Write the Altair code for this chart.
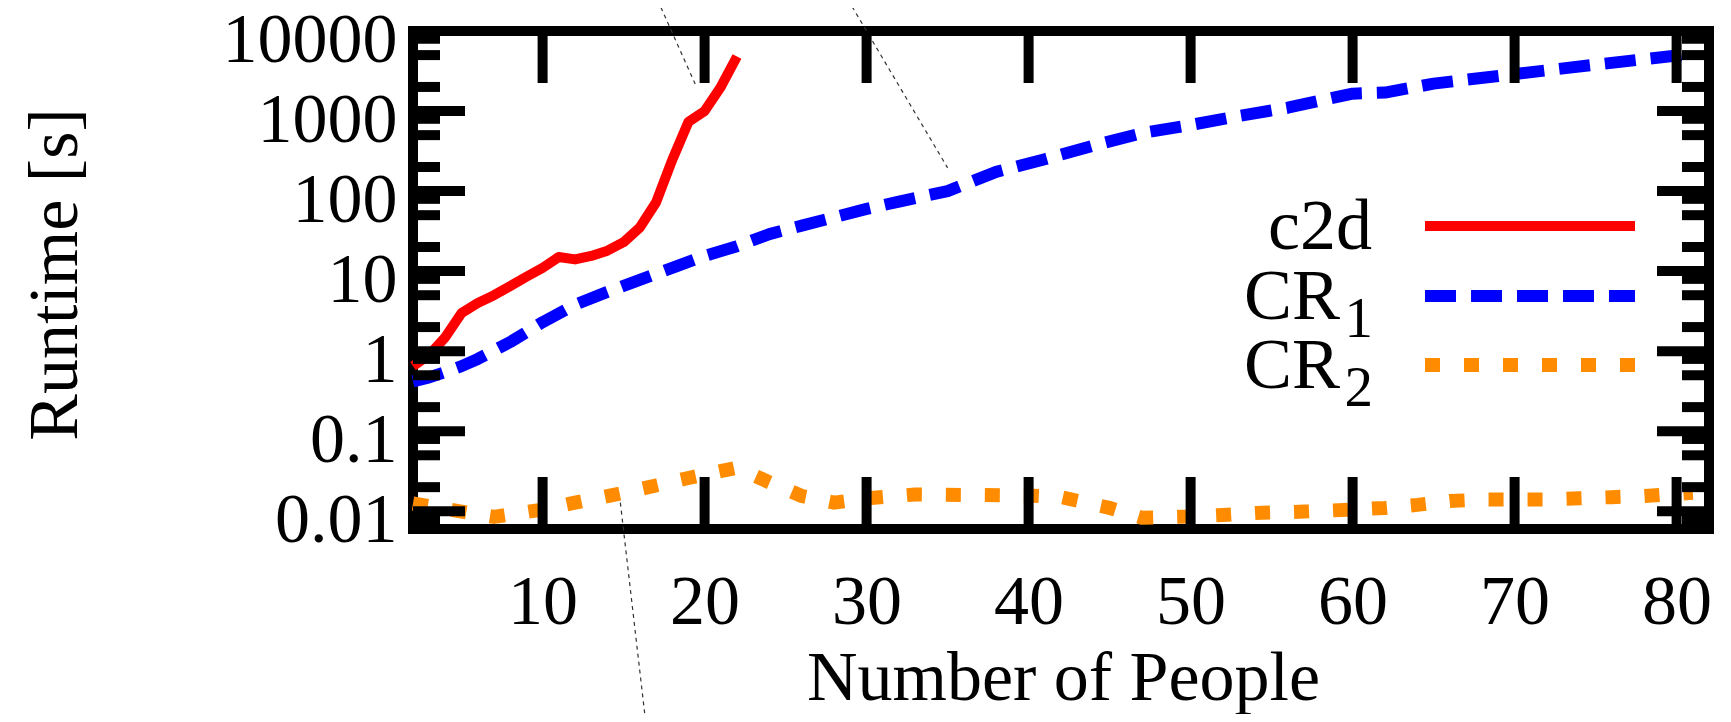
import altair as alt
import pandas as pd

# ---------------- data ----------------
c2d_x = list(range(2, 23))
c2d_y = [0.65, 0.9, 1.5, 3.0, 4.0, 5.0, 6.5, 8.5, 11, 15, 14, 15.5, 18, 23,
         35, 72, 245, 730, 1000, 2000, 4800]

cr1_x = [2, 3, 4, 5, 6, 8, 10, 12, 14, 16, 18, 20, 22, 24, 26, 28, 30, 32,
         35, 38, 41, 44, 47, 50, 53, 56, 58, 60, 62, 65, 70, 75, 81]
cr1_y = [0.42, 0.47, 0.55, 0.65, 0.8, 1.3, 2.3, 3.8, 5.5, 7.8, 11, 15.5, 20.5,
         29, 37, 47, 60, 74, 100, 174, 250, 370, 530, 670, 870, 1100, 1350,
         1650, 1700, 2200, 2900, 3800, 5200]

cr2_x = [2, 5, 7, 10, 12, 15, 17, 19, 22, 24, 26, 28, 30, 33, 36, 40, 42, 45,
         47, 50, 52, 54, 57, 60, 62, 64, 66, 68, 72, 74, 76, 78, 81]
cr2_y = [0.0125, 0.0099, 0.0085, 0.0105, 0.0128, 0.017, 0.021, 0.026, 0.035,
         0.023, 0.0155, 0.0128, 0.0145, 0.0162, 0.016, 0.0157, 0.015, 0.011,
         0.0083, 0.0086, 0.009, 0.0095, 0.0099, 0.0105, 0.011, 0.012, 0.0134,
         0.014, 0.014, 0.0145, 0.015, 0.0155, 0.017]

series_names = ["c2d", "CR", "CR"]
series_subs = ["", "1", "2"]
series_colors = ["#ff0000", "#0000ff", "#ff8c00"]

x_ticks = [10, 20, 30, 40, 50, 60, 70, 80]
y_major = [0.01, 0.1, 1, 10, 100, 1000, 10000]
y_minor = [m * 10.0 ** e for e in range(-3, 4) for m in (2, 5, 8)]
x_domain = [2, 82]
y_domain = [0.006, 10000]
y_minor = [v for v in y_minor if y_domain[0] <= v <= y_domain[1]]

# stray thin dotted lines present in the source figure (data coordinates)
art_id = [0, 0, 1, 1, 2, 2]
art_x = [16.9, 19.5, 28.6, 35.0, 14.8, 16.3]
art_y = [30000, 2000, 30000, 195, 0.0128, 0.00003]

# ---------------- layout / style ----------------
W, H = 1296, 498
FONT = "Liberation Serif"
FS = 70
FS_KEY = 72
MAJ, MIN = 52, 27

xs = alt.Scale(domain=x_domain, nice=False, zero=False)
ys = alt.Scale(type="log", domain=y_domain, nice=False)

x_axis = alt.Axis(values=x_ticks, title="Number of People", labelFont=FONT,
                  labelFontSize=FS, labelColor="black", labelPadding=39,
                  ticks=False, tickSize=0, domain=False, grid=False,
                  labelFlush=False, labelOverlap=False,
                  titleFont=FONT, titleFontSize=FS, titleFontWeight="normal",
                  titleColor="black", titleX=650, titleY=170,
                  titleAlign="center", titleBaseline="alphabetic")
y_axis = alt.Axis(values=y_major, format="~g", title="Runtime [s]",
                  labelFont=FONT, labelFontSize=FS, labelColor="black",
                  labelPadding=16, labelOffset=9, ticks=False, tickSize=0,
                  domain=False, grid=False, labelFlush=False,
                  labelOverlap=False,
                  titleFont=FONT, titleFontSize=FS, titleFontWeight="normal",
                  titleColor="black", titleAngle=270, titleX=-337, titleY=243,
                  titleAlign="center", titleBaseline="alphabetic")


def X(field):
    return alt.X(field, scale=xs, axis=x_axis)


def Y(field):
    return alt.Y(field, scale=ys, axis=y_axis)


def line_layer(xv, yv, color, width, dash=None):
    df = pd.DataFrame({"x": xv, "y": yv})
    kw = dict(color=color, strokeWidth=width, strokeCap="butt",
              strokeJoin="round")
    if dash:
        kw["strokeDash"] = dash
    return alt.Chart(df).mark_line(**kw).encode(x=X("x:Q"), y=Y("y:Q"))


layers = []

# artefact dotted lines (drawn first, beneath everything)
art = pd.DataFrame({"g": art_id, "x": art_x, "y": art_y})
layers.append(alt.Chart(art).mark_line(color="#333333", strokeWidth=1.2,
                                       strokeDash=[4, 4]).encode(
    x=X("x:Q"), y=Y("y:Q"), detail="g:N"))

layers.append(line_layer(cr2_x, cr2_y, series_colors[2], 14, [15, 24]))
layers.append(line_layer(cr1_x, cr1_y, series_colors[1], 12, [31, 15]))
layers.append(line_layer(c2d_x, c2d_y, series_colors[0], 10))

# inward ticks (gnuplot style, all four sides)
xt = pd.DataFrame({"x": x_ticks})
ymaj = pd.DataFrame({"y": y_major})
ymin = pd.DataFrame({"y": y_minor})
tick_kw = dict(color="black", strokeWidth=10, strokeCap="butt")
for y0, y1 in [(H, H - MAJ), (0, MAJ)]:
    layers.append(alt.Chart(xt).mark_rule(**tick_kw).encode(
        x=X("x:Q"), y=alt.value(y0), y2=alt.value(y1)))
for df, ln in [(ymaj, MAJ), (ymin, MIN)]:
    for x0, x1 in [(0, ln), (W, W - ln)]:
        layers.append(alt.Chart(df).mark_rule(**tick_kw).encode(
            y=Y("y:Q"), x=alt.value(x0), x2=alt.value(x1)))

# key (label right-aligned, sample line to its right)
one = pd.DataFrame({"a": [0]})
key_text_right = 959
key_x0, key_x1 = 1012, 1222
key_rows = [195, 265, 334]
key_dash = [None, [31, 15], [15, 24]]
key_w = [10, 12, 14]
for i in range(3):
    yy = key_rows[i]
    rkw = dict(color=series_colors[i], strokeWidth=key_w[i], strokeCap="butt")
    if key_dash[i]:
        rkw["strokeDash"] = key_dash[i]
    layers.append(alt.Chart(one).mark_rule(**rkw).encode(
        x=alt.value(key_x0), x2=alt.value(key_x1), y=alt.value(yy)))
    if series_subs[i]:
        layers.append(alt.Chart(one).mark_text(
            text=series_names[i], font=FONT, fontSize=FS_KEY, align="right",
            baseline="alphabetic", color="black").encode(
            x=alt.value(key_text_right - 32), y=alt.value(yy + 23)))
        layers.append(alt.Chart(one).mark_text(
            text=series_subs[i], font=FONT, fontSize=int(FS_KEY * 0.8),
            align="right", baseline="alphabetic", color="black").encode(
            x=alt.value(key_text_right + 1), y=alt.value(yy + 41)))
    else:
        layers.append(alt.Chart(one).mark_text(
            text=series_names[i], font=FONT, fontSize=FS_KEY, align="right",
            baseline="alphabetic", color="black").encode(
            x=alt.value(key_text_right), y=alt.value(yy + 23)))

chart = alt.layer(*layers).properties(
    width=W, height=H,
    autosize=alt.AutoSizeParams(type="none"),
    padding={"left": 405, "top": 23, "right": 12, "bottom": 185},
    background="white",
).configure_view(stroke="black", strokeWidth=10)

chart.save("out.html", embed_options={"renderer": "svg", "actions": False})
